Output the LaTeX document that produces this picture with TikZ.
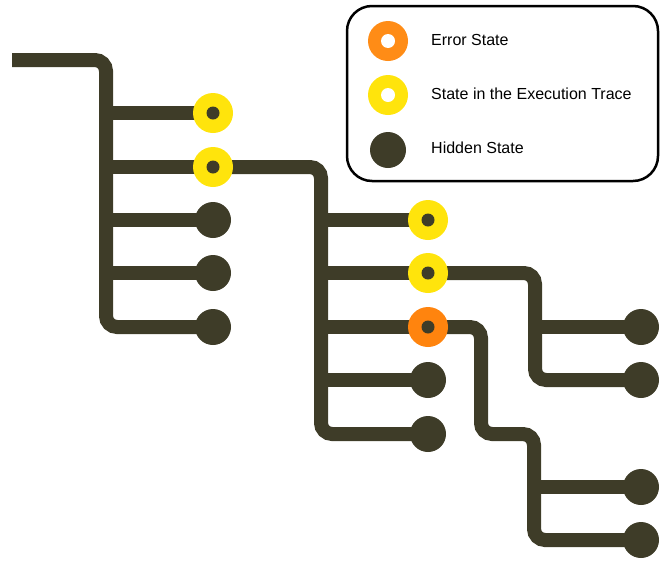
\documentclass[tikz,border=0pt]{standalone}
\usepackage{fontspec}
\setmainfont{Liberation Sans}
\definecolor{olive}{RGB}{62,60,40}
\definecolor{traceyellow}{RGB}{255,228,12}
\definecolor{errorange}{RGB}{255,132,14}
\definecolor{legendorange}{RGB}{255,140,22}
\begin{document}
\begin{tikzpicture}[x=1pt,y=-1pt,
  wire/.style={draw=olive,line width=14pt,rounded corners=11pt},
  hidden/.style={circle,fill=olive,minimum size=36pt,inner sep=0pt},
  tracestate/.style={circle,fill=traceyellow,minimum size=40pt,inner sep=0pt,
    path picture={\fill[olive] (path picture bounding box.center) circle (6.5pt);}},
  errstate/.style={circle,fill=errorange,minimum size=40pt,inner sep=0pt,
    path picture={\fill[olive] (path picture bounding box.center) circle (6.5pt);}},
  legendring/.style={circle,minimum size=40pt,inner sep=0pt,
    path picture={\fill[white] (path picture bounding box.center) circle (7pt);}},
  legendtext/.style={anchor=west,font=\fontsize{16}{19}\selectfont,inner sep=0pt}]
\useasboundingbox (0,0) rectangle (660,560);

% junction points of the tree
\coordinate (root) at (12,60);
\coordinate (j1top) at (106,60);
\coordinate (j1bot) at (106,327);
\coordinate (j2top) at (321,167);
\coordinate (j2bot) at (321,434);
\coordinate (j3top) at (535,273);
\coordinate (j3bot) at (535,380);
\coordinate (j4top) at (481,327);
\coordinate (j4mid) at (481,434);
\coordinate (j5top) at (534,434);
\coordinate (j5bot) at (534,540);

% states
\coordinate (a1) at (213,113);
\coordinate (a2) at (213,167);
\coordinate (a3) at (213,220);
\coordinate (a4) at (213,273);
\coordinate (a5) at (213,327);
\coordinate (b1) at (428,220);
\coordinate (b2) at (428,273);
\coordinate (b3) at (428,327);
\coordinate (b4) at (428,380);
\coordinate (b5) at (428,434);
\coordinate (c1) at (641,327);
\coordinate (c2) at (641,380);
\coordinate (d1) at (641,487);
\coordinate (d2) at (641,540);

% wires
\draw[wire] (root) -- (j1top) -- (j1bot) -- (a5);
\foreach \s in {a1,a2,a3,a4} \draw[wire] (j1top |- \s) -- (\s);
\draw[wire] (a2) -- (j2top) -- (j2bot) -- (b5);
\foreach \s in {b1,b2,b3,b4} \draw[wire] (j2top |- \s) -- (\s);
\draw[wire] (b2) -- (j3top) -- (j3bot) -- (c2);
\draw[wire] (j3top |- c1) -- (c1);
\draw[wire] (b3) -- (j4top) -- (j4mid) -- (j5top) -- (j5bot) -- (d2);
\draw[wire] (j5top |- d1) -- (d1);

% state markers
\node[tracestate] (na1) at (a1) {};
\node[tracestate] (na2) at (a2) {};
\node[hidden] (na3) at (a3) {};
\node[hidden] (na4) at (a4) {};
\node[hidden] (na5) at (a5) {};
\node[tracestate] (nb1) at (b1) {};
\node[tracestate] (nb2) at (b2) {};
\node[errstate] (nb3) at (b3) {};
\node[hidden] (nb4) at (b4) {};
\node[hidden] (nb5) at (b5) {};
\node[hidden] (nc1) at (c1) {};
\node[hidden] (nc2) at (c2) {};
\node[hidden] (nd1) at (d1) {};
\node[hidden] (nd2) at (d2) {};

% legend
\draw[line width=2.5pt,rounded corners=25pt] (347,6) rectangle (658,181);
\node[legendring,fill=legendorange] (lerr) at (388,41) {};
\node[legendring,fill=traceyellow] (ltrace) at (388,95) {};
\node[hidden] (lhid) at (388,150) {};
\node[legendtext] at (431,40) {Error State};
\node[legendtext] at (431,94) {State in the Execution Trace};
\node[legendtext] at (431,148) {Hidden State};
\end{tikzpicture}
\end{document}
